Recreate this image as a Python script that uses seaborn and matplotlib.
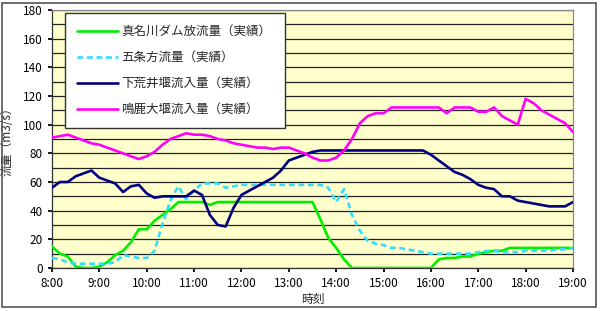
import numpy as np
import pandas as pd
import matplotlib
matplotlib.use("Agg")
import matplotlib.pyplot as plt
import seaborn as sns
from matplotlib.patches import Rectangle

# ---- data (10-minute readings, 8:00 - 19:00) ----
series_names = ["真名川ダム放流量（実績）", "五条方流量（実績）", "下荒井堰流入量（実績）", "鳴鹿大堰流入量（実績）"]

managawa = [15, 10, 8, 1, 0, 0,
            1, 4, 9, 12, 18, 27,
            27, 33, 37, 41, 46, 46,
            46, 46, 44, 46, 46, 46,
            46, 46, 46, 46, 46, 46,
            46, 46, 46, 46, 34, 21,
            14, 6, 0, 0, 0, 0,
            0, 0, 0, 0, 0, 0,
            0, 6, 7, 7, 8, 8,
            10, 11, 12, 12, 14, 14,
            14, 14, 14, 14, 14, 14,
            14]

gojo = [7, 6, 4, 3, 3, 3,
        3, 3, 4, 9, 8, 7,
        7, 12, 31, 47, 57, 48,
        54, 59, 59, 59, 56, 57,
        58, 58, 58, 58, 58, 58,
        58, 58, 58, 58, 58, 56,
        46, 55, 37, 26, 19, 17,
        16, 14, 14, 13, 12, 11,
        10, 10, 10, 10, 10, 10,
        11, 12, 12, 11, 11, 11,
        12, 12, 12, 12, 13, 13,
        14]

shimoarai = [56, 60, 60, 64, 66, 68,
             63, 61, 59, 53, 57, 58,
             52, 49, 50, 50, 50, 50,
             54, 51, 37, 30, 29, 42,
             51, 54, 57, 60, 63, 68,
             75, 77, 79, 81, 82, 82,
             82, 82, 82, 82, 82, 82,
             82, 82, 82, 82, 82, 82,
             79, 75, 71, 67, 65, 62,
             58, 56, 55, 50, 50, 47,
             46, 45, 44, 43, 43, 43,
             46]

naruka = [91, 92, 93, 91, 89, 87,
          86, 84, 82, 80, 78, 76,
          78, 81, 86, 90, 92, 94,
          93, 93, 92, 90, 89, 87,
          86, 85, 84, 84, 83, 84,
          84, 82, 80, 77, 75, 75,
          77, 82, 90, 101, 106, 108,
          108, 112, 112, 112, 112, 112,
          112, 112, 108, 112, 112, 112,
          109, 109, 112, 106, 103, 100,
          118, 115, 110, 107, 104, 101,
          95]

hour_ticks = [8, 9, 10, 11, 12, 13, 14, 15, 16, 17, 18, 19]
hour_labels = ["8:00", "9:00", "10:00", "11:00", "12:00", "13:00", "14:00",
               "15:00", "16:00", "17:00", "18:00", "19:00"]
y_ticks = [0, 20, 40, 60, 80, 100, 120, 140, 160, 180]

times = 8 + np.arange(len(managawa)) / 6.0
df = pd.DataFrame({
    "時刻": np.tile(times, 4),
    "流量": managawa + gojo + shimoarai + naruka,
    "series": np.repeat(series_names, len(times)),
})

sns.set_theme(style="white")
plt.rcParams["font.family"] = ["Noto Sans CJK JP", "DejaVu Sans"]

fig = plt.figure(figsize=(6.0, 3.11), dpi=100)
ax = fig.add_axes([52 / 600, 1 - 268 / 311, (573 - 52) / 600, (268 - 10) / 311])
ax.set_facecolor("#FFFFCC")

colors = ["#00EE00", "#33DDFF", "#000080", "#FF00FF"]
styles = ["-", (0, (2.2, 1.4)), "-", "-"]
for name, c, ls in zip(series_names, colors, styles):
    sub = df[df["series"] == name]
    sns.lineplot(data=sub, x="時刻", y="流量", ax=ax, color=c, linewidth=1.9,
                 linestyle=ls, label=name, zorder=3)

ax.set_xlim(8, 19)
ax.set_ylim(0, 180)
ax.set_xticks(hour_ticks)
ax.set_xticklabels(hour_labels)
ax.set_yticks(y_ticks)
ax.set_yticks(list(range(10, 180, 20)), minor=True)
ax.grid(axis="y", which="both", color="#222222", linewidth=0.9, zorder=1)
ax.grid(axis="x", visible=False)
ax.tick_params(axis="both", which="major", labelsize=8.5, colors="black", length=3,
               direction="out", left=True, bottom=True)
ax.tick_params(axis="y", which="minor", length=0)
for s in ["top", "right"]:
    ax.spines[s].set_color("#888888")
    ax.spines[s].set_linewidth(0.9)
for s in ["left", "bottom"]:
    ax.spines[s].set_color("#333333")
    ax.spines[s].set_linewidth(0.9)

ax.set_xlabel("時刻", fontsize=8.5, labelpad=2)
ax.set_ylabel("流量（m3/s）", fontsize=8.5)
ax.yaxis.set_label_coords(-(52 - 14) / 521, 0.5)

x0 = (65 - 52) / 521
x1 = (285 - 52) / 521
y0 = (268 - 122) / 258
y1 = (268 - 13) / 258
leg = ax.legend(loc="upper left", bbox_to_anchor=(x0, y0, x1 - x0, y1 - y0), mode="expand",
                fontsize=9, frameon=True, fancybox=False, handlelength=3.3,
                labelspacing=1.05, borderpad=0.95, handletextpad=0.25,
                borderaxespad=0)
leg.get_frame().set_edgecolor("#333333")
leg.get_frame().set_facecolor("white")
leg.get_frame().set_linewidth(1.0)
leg.get_frame().set_alpha(1)
leg.set_zorder(5)

fig.add_artist(Rectangle((0.004, 0.012), 0.99, 0.978, transform=fig.transFigure,
                         fill=False, edgecolor="#555555", linewidth=1.2))

fig.savefig("out.png", dpi=100, facecolor="white")
